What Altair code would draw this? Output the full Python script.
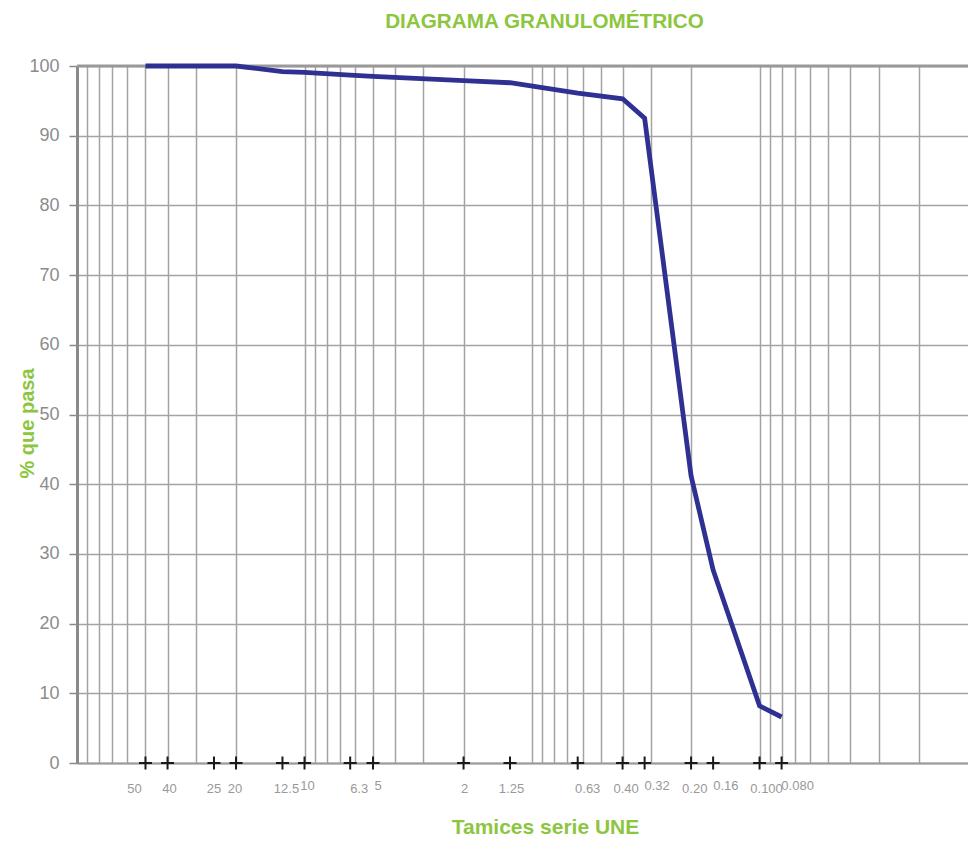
import altair as alt
import pandas as pd

# Sieve sizes (mm), their labels and the % passing
sieve_mm = [50, 40, 25, 20, 12.5, 10, 6.3, 5, 2, 1.25, 0.63, 0.40, 0.32, 0.20, 0.16, 0.100, 0.080]
sieve_labels = ["50", "40", "25", "20", "12.5", "10", "6.3", "5", "2", "1.25",
                "0.63", "0.40", "0.32", "0.20", "0.16", "0.100", "0.080"]
pct_passing = [100, 100, 100, 100, 99.2, 99.1, 98.7, 98.5, 97.9, 97.6,
               96.1, 95.3, 92.5, 41.2, 27.7, 8.2, 6.6]

# label placement tweaks (pixels) to mimic the original label layout
label_nudge_x = [-11, 2, 0, -1, 4, 3, 9, 5, 1, 1.5, 10, 3.5, 12.5, 3.7, 12.7, 7, 16]
label_nudge_y = [0, 0, 0, 0, 0, -3, 0, -3, 0, 0, 0, 0, -3, 0, -3, 0, -3]

y_ticks = list(range(0, 101, 10))
x_grid = [100] + [m * 10.0 ** e for e in (1, 0, -1) for m in range(9, 0, -1)] + [m / 100 for m in range(9, 1, -1)]

GREEN = "#8CC63F"
FONT = "Liberation Sans"

df = pd.DataFrame({
    "sieve": sieve_mm,
    "label": sieve_labels,
    "pct": pct_passing,
    "zero": [0] * len(sieve_mm),
    "nx": label_nudge_x,
    "ny": label_nudge_y,
})

x_scale = alt.Scale(type="log", domain=[0.01213, 100], reverse=True, nice=False)
y_scale = alt.Scale(domain=[0, 100], nice=False)

x_axis = alt.Axis(values=x_grid, grid=True, gridColor="#a3a3a3", gridWidth=1.5,
                  labels=False, ticks=False, domainColor="#9a9a9a", domainWidth=2,
                  title="Tamices serie UNE", titleFont=FONT, titleFontSize=21,
                  titleFontWeight="bold", titleColor=GREEN, titleX=468, titleY=64,
                  titleBaseline="middle", titleAlign="center")
y_axis = alt.Axis(values=y_ticks, grid=True, gridColor="#a3a3a3", gridWidth=1.5,
                  domainColor="#8a8a8a", domainWidth=3, tickColor="#8a8a8a",
                  tickSize=8, tickWidth=1.5, labelFont=FONT, labelFontSize=18,
                  labelColor="#8c8c8c", labelPadding=10,
                  title="% que pasa", titleFont=FONT, titleFontSize=20,
                  titleFontWeight="bold", titleColor=GREEN, titleX=-50, titleY=357,
                  titleAngle=270, titleBaseline="middle", titleAlign="center")

base = alt.Chart(df)

curve = base.mark_line(color="#2E3192", strokeWidth=4.8, strokeJoin="miter").encode(
    x=alt.X("sieve:Q", scale=x_scale, axis=x_axis),
    y=alt.Y("pct:Q", scale=y_scale, axis=y_axis),
    order="zero:Q",
)

top_rule = alt.Chart(pd.DataFrame({"v": [100]})).mark_rule(color="#999999", strokeWidth=3).encode(
    y=alt.Y("v:Q", scale=y_scale)
)

crosses = base.mark_point(shape="M-1,0L1,0M0,-1L0,1", size=169, color="#1a1a1a",
                          strokeWidth=2, filled=False, opacity=1).encode(
    x=alt.X("sieve:Q", scale=x_scale),
    y=alt.Y("zero:Q", scale=y_scale),
)

labels = base.mark_text(font=FONT, fontSize=13, color="#999999", align="center",
                        baseline="alphabetic",
                        dx=alt.ExprRef("datum.nx"),
                        dy=alt.ExprRef("30 + datum.ny")).encode(
    x=alt.X("sieve:Q", scale=x_scale),
    y=alt.Y("zero:Q", scale=y_scale),
    text="label:N",
)

chart = alt.layer(top_rule, curve, crosses, labels).properties(
    width=891, height=697,
    autosize=alt.AutoSizeParams(type="none"),
    padding={"left": 69, "top": 58, "right": 0, "bottom": 75},
    title=alt.TitleParams("DIAGRAMA GRANULOMÉTRICO", font=FONT, fontSize=20.7,
                          fontWeight="bold", color=GREEN, anchor="middle",
                          frame="group", dx=22, offset=24),
).configure_view(stroke=None)

chart.save("out.html", embed_options={"renderer": "svg", "actions": False})
